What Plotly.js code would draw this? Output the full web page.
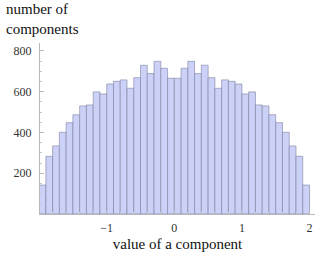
<!DOCTYPE html>
<html>
<head>
<meta charset="utf-8">
<script src="https://cdn.plot.ly/plotly-3.0.1.min.js"></script>
<style>html,body{margin:0;padding:0;background:#fff;}#chart{width:318px;height:254px;}</style>
</head>
<body>
<div id="chart"></div>
<script>
var binCenters = [-1.95,-1.85,-1.75,-1.65,-1.55,-1.45,-1.35,-1.25,-1.15,-1.05,
                  -0.95,-0.85,-0.75,-0.65,-0.55,-0.45,-0.35,-0.25,-0.15,-0.05,
                  0.05,0.15,0.25,0.35,0.45,0.55,0.65,0.75,0.85,0.95,
                  1.05,1.15,1.25,1.35,1.45,1.55,1.65,1.75,1.85,1.95];
var counts = [142,283,334,401,448,487,530,535,599,589,
              638,651,658,617,669,730,689,749,715,666,
              666,715,749,689,730,669,617,658,651,638,
              589,599,535,530,487,448,401,334,283,142];
var xTickVals = [-1,0,1,2];
var xTickText = ['\u22121','0','1','2'];
var yTickVals = [200,400,600,800];
var yTickText = ['200','400','600','800'];

var trace = {
  type: 'bar',
  x: binCenters,
  y: counts,
  width: 0.1,
  marker: {color: 'rgb(204,210,247)', line: {color: 'rgba(125,128,160,0.75)', width: 0.8}},
  hoverinfo: 'skip'
};
var tickFont = {family: 'Liberation Serif, DejaVu Serif, serif', size: 12, color: '#333'};
var layout = {
  width: 318, height: 254,
  margin: {l: 40, r: 3, t: 43, b: 40},
  paper_bgcolor: '#fff', plot_bgcolor: '#fff',
  showlegend: false,
  bargap: 0,
  xaxis: {
    range: [-1.987, 2.081],
    tickvals: xTickVals, ticktext: xTickText,
    showgrid: false, zeroline: false,
    showline: true, linecolor: '#b8b8b8', linewidth: 1,
    ticks: 'inside', ticklen: 4, tickcolor: '#b8b8b8',
    minor: {dtick: 0.2, ticks: 'inside', ticklen: 2, tickcolor: '#c8c8c8'},
    tickfont: tickFont,
    ticklabelstandoff: 3,
    title: {text: 'value of a component', standoff: 4,
            font: {family: 'Liberation Serif, DejaVu Serif, serif', size: 15, color: '#111'}}
  },
  yaxis: {
    range: [0, 839],
    tickvals: yTickVals, ticktext: yTickText,
    showgrid: false, zeroline: false,
    showline: true, linecolor: '#b8b8b8', linewidth: 1,
    ticks: 'inside', ticklen: 4, tickcolor: '#b8b8b8',
    minor: {dtick: 50, ticks: 'inside', ticklen: 2, tickcolor: '#c8c8c8'},
    tickfont: tickFont,
    ticklabelstandoff: 5
  },
  annotations: [{
    text: 'number of<br>components', xref: 'paper', yref: 'paper',
    x: -0.13, y: 1.255, xanchor: 'left', yanchor: 'top', align: 'left', showarrow: false,
    font: {family: 'Liberation Serif, DejaVu Serif, serif', size: 15, color: '#111'}
  }]
};
Plotly.newPlot('chart', [trace], layout, {staticPlot: true, displayModeBar: false});
</script>
</body>
</html>
